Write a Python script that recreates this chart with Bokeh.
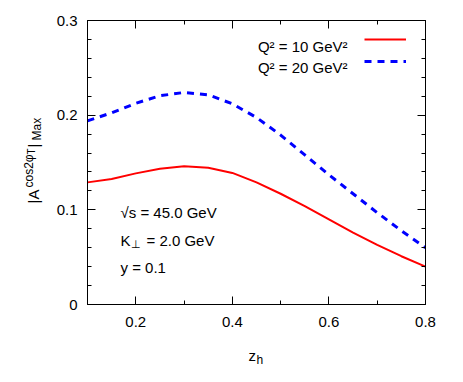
import math
from bokeh.plotting import figure
from bokeh.models import (Range1d, LinearAxis, FixedTicker, Label, Legend,
                          LegendItem, CustomJSTickFormatter)
from bokeh.embed import file_html
from bokeh.resources import INLINE

# ---------------- data ----------------
z_h = [0.10, 0.15, 0.20, 0.25, 0.30, 0.35, 0.40, 0.45, 0.50, 0.55, 0.60, 0.65, 0.70, 0.75, 0.80]
asym_q10 = [0.129, 0.1325, 0.1385, 0.1435, 0.146, 0.1445, 0.139, 0.129, 0.117, 0.104,
            0.090, 0.076, 0.063, 0.051, 0.040]
asym_q20 = [0.194, 0.2025, 0.2125, 0.2205, 0.224, 0.2215, 0.212, 0.1975, 0.179, 0.158,
            0.137, 0.117, 0.097, 0.078, 0.060]
series_labels = ["Q\u00b2 = 10 GeV\u00b2", "Q\u00b2 = 20 GeV\u00b2"]
x_ticks = [0.2, 0.4, 0.6, 0.8]
x_tick_labels = ["0.2", "0.4", "0.6", "0.8"]
x_minor = [0.1, 0.3, 0.5, 0.7]
y_ticks = [0, 0.1, 0.2, 0.3]
y_tick_labels = ["0", "0.1", "0.2", "0.3"]
y_minor = [0.02, 0.04, 0.06, 0.08, 0.12, 0.14, 0.16, 0.18, 0.22, 0.24, 0.26, 0.28]
X0, X1, Y0, Y1 = 0.1, 0.8, 0.0, 0.3

FONT = "Liberation Sans"

# frame geometry on page (pixels)
FL, FR, FT, FB = 87, 425, 20, 304

p = figure(frame_width=FR - FL, frame_height=FB - FT,
           x_range=Range1d(X0, X1), y_range=Range1d(Y0, Y1),
           output_backend="svg", toolbar_location=None,
           min_border_left=FL, min_border_right=30,
           min_border_top=FT, min_border_bottom=70)
p.background_fill_color = "white"
p.border_fill_color = "white"
p.outline_line_color = "black"
p.outline_line_width = 1
p.xgrid.visible = False
p.ygrid.visible = False


def style_axis(ax, ticks, minor, labels=None):
    ax.ticker = FixedTicker(ticks=ticks, minor_ticks=minor)
    ax.major_tick_in = 8
    ax.major_tick_out = 0
    ax.minor_tick_in = 4
    ax.minor_tick_out = 0
    ax.axis_line_color = "black"
    ax.major_tick_line_color = "black"
    ax.minor_tick_line_color = "black"
    if labels is not None:
        ax.major_label_overrides = {t: l for t, l in zip(ticks, labels)}
        ax.major_label_text_font = FONT
        ax.major_label_text_font_size = "15px"
        ax.major_label_text_color = "black"
    else:
        ax.formatter = CustomJSTickFormatter(code="return ''")
        ax.major_label_text_font_size = "1px"
        ax.major_label_standoff = 0


style_axis(p.xaxis[0], x_ticks, x_minor, x_tick_labels)
p.xaxis[0].major_label_standoff = 12
style_axis(p.yaxis[0], y_ticks, y_minor, y_tick_labels)
p.yaxis[0].major_label_standoff = 10

top_ax = LinearAxis()
style_axis(top_ax, x_ticks, x_minor)
p.add_layout(top_ax, "above")
right_ax = LinearAxis()
style_axis(right_ax, y_ticks, y_minor)
p.add_layout(right_ax, "right")

r1 = p.line(z_h, asym_q10, line_color="#ff0000", line_width=2)
r2 = p.line(z_h, asym_q20, line_color="#0000ff", line_width=3, line_dash="7 6")

legend = Legend(items=[LegendItem(label=" ", renderers=[r1]),
                       LegendItem(label=" ", renderers=[r2])],
                location="top_right", margin=11, padding=0, spacing=6,
                glyph_width=42, glyph_height=16, label_height=16,
                label_width=8, label_standoff=0, label_text_font_size="1px",
                border_line_alpha=0, background_fill_alpha=0)
p.add_layout(legend)


def px2x(px):
    return X0 + (px - FL) * (X1 - X0) / (FR - FL)


def py2y(py):
    return Y0 + (FB - py) * (Y1 - Y0) / (FB - FT)


def lab(text, px, py, size, angle=0.0, align="left", place=None):
    l = Label(x=px2x(px), y=py2y(py), text=text, text_font=FONT,
              text_font_size=f"{size}px", angle=angle, text_align=align,
              text_baseline="alphabetic", text_color="black")
    if place is None:
        p.add_layout(l)
    else:
        p.add_layout(l, place)


# legend texts
lab(series_labels[0], 347, 46, 15, align="right")
lab(series_labels[1], 347, 66.5, 15, align="right")

# annotations
lab("\u221as = 45.0 GeV", 120, 212, 15)
lab("K", 120, 239.5, 15)
lab("\u22a5", 130.5, 243, 11)
lab("= 2.0 GeV", 146, 239.5, 15)
lab("y = 0.1", 120, 266.5, 15)

# x axis label z_h (outside frame: side panels are not clipped)
lab("z", 248, 355, 15, place="below")
lab("h", 256, 359, 12, place="below")

# y axis label |A^{cos2phi_T}|_Max (rotated)
R = math.pi / 2
lab("|A", 33, 203, 15, angle=R, place="left")
lab("cos2\u03c6", 28, 187, 12, angle=R, place="right")
lab("T", 31, 154, 10, angle=R, place="below")
lab("|", 33, 147, 15, angle=R, place="left")
lab("Max", 36.5, 140, 12, angle=R, place="left")

open("out.html", "w").write(file_html(p, INLINE))
